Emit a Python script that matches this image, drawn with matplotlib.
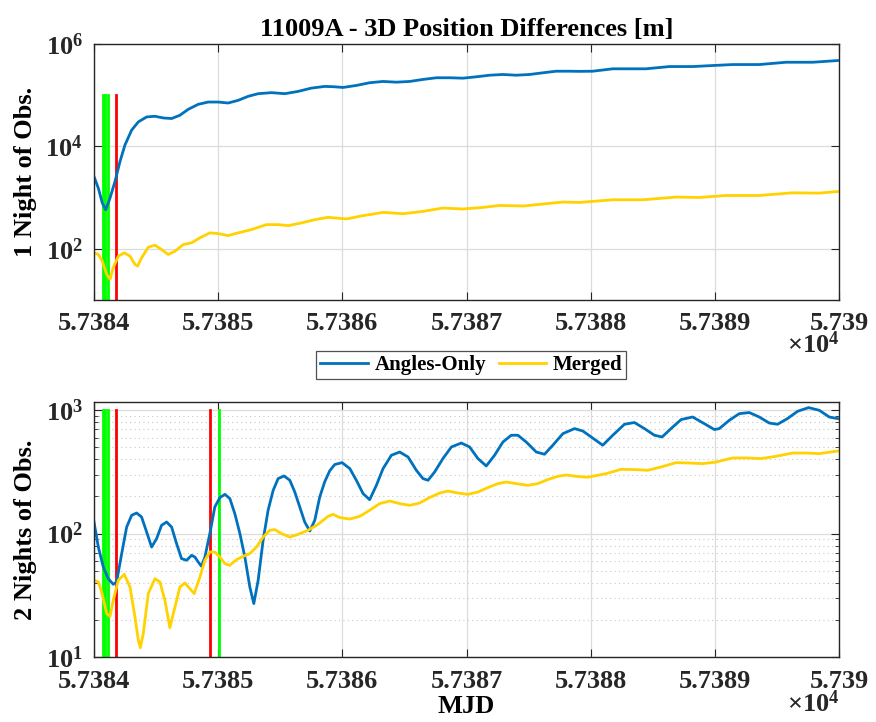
import matplotlib
matplotlib.use('Agg')
import matplotlib.pyplot as plt
import numpy as np
from matplotlib.ticker import FixedLocator, FuncFormatter, LogLocator, NullFormatter

plt.rcParams['font.family'] = ['Liberation Serif', 'DejaVu Serif']
plt.rcParams['font.weight'] = 'bold'
plt.rcParams['mathtext.fontset'] = 'custom'
plt.rcParams['mathtext.rm'] = 'Liberation Serif'
plt.rcParams['mathtext.bf'] = 'Liberation Serif:bold'
plt.rcParams['mathtext.default'] = 'bf'

# ---- data (MJD, log10 of position difference [m]) ----
top_ao_mjd = [57384.0, 57384.035, 57384.067, 57384.094, 57384.129, 57384.169, 57384.209, 57384.249,
              57384.303, 57384.357, 57384.424, 57384.491, 57384.558, 57384.625, 57384.692, 57384.759,
              57384.839, 57384.920, 57385.0, 57385.080, 57385.161, 57385.241, 57385.322, 57385.430,
              57385.537, 57385.644, 57385.751, 57385.858, 57385.930, 57386.006, 57386.113, 57386.220,
              57386.328, 57386.435, 57386.542, 57386.649, 57386.757, 57386.864, 57386.971, 57387.079,
              57387.186, 57387.293, 57387.400, 57387.508, 57387.615, 57387.722, 57387.829, 57387.910,
              57388.017, 57388.178, 57388.339, 57388.446, 57388.634, 57388.821, 57388.982, 57389.143,
              57389.358, 57389.573, 57389.787, 57389.988]
top_ao_log = [3.41, 3.184, 2.893, 2.76, 2.99, 3.313, 3.701, 4.025,
              4.317, 4.478, 4.575, 4.588, 4.555, 4.544, 4.608, 4.724,
              4.821, 4.866, 4.866, 4.847, 4.899, 4.977, 5.029, 5.049,
              5.029, 5.074, 5.138, 5.171, 5.165, 5.151, 5.190, 5.243,
              5.268, 5.254, 5.268, 5.307, 5.340, 5.340, 5.332, 5.359,
              5.390, 5.404, 5.390, 5.404, 5.437, 5.468, 5.468, 5.465,
              5.468, 5.515, 5.515, 5.515, 5.559, 5.559, 5.579, 5.598,
              5.598, 5.643, 5.643, 5.676]

top_mg_mjd = [57384.0, 57384.035, 57384.067, 57384.102, 57384.129, 57384.155, 57384.196, 57384.244,
              57384.290, 57384.330, 57384.351, 57384.384, 57384.437, 57384.491, 57384.544, 57384.598,
              57384.652, 57384.719, 57384.786, 57384.853, 57384.933, 57385.0, 57385.080, 57385.161,
              57385.268, 57385.389, 57385.483, 57385.564, 57385.671, 57385.778, 57385.885, 57386.033,
              57386.167, 57386.328, 57386.489, 57386.649, 57386.810, 57386.971, 57387.132, 57387.266,
              57387.454, 57387.615, 57387.776, 57387.910, 57388.178, 57388.419, 57388.688, 57388.875,
              57389.089, 57389.358, 57389.626, 57389.841, 57389.988]
top_mg_log = [1.922, 1.889, 1.759, 1.501, 1.404, 1.631, 1.856, 1.922,
              1.856, 1.695, 1.662, 1.825, 2.031, 2.070, 1.986, 1.889,
              1.953, 2.083, 2.117, 2.214, 2.311, 2.297, 2.258, 2.311,
              2.375, 2.472, 2.472, 2.452, 2.505, 2.569, 2.614, 2.583,
              2.647, 2.711, 2.685, 2.730, 2.796, 2.777, 2.808, 2.847,
              2.835, 2.874, 2.913, 2.905, 2.957, 2.957, 3.010, 3.002,
              3.041, 3.041, 3.093, 3.087, 3.118]

bot_ao_mjd = [57384.0, 57384.035, 57384.075, 57384.115, 57384.155, 57384.182, 57384.223, 57384.263,
              57384.303, 57384.343, 57384.383, 57384.424, 57384.464, 57384.504, 57384.544, 57384.585,
              57384.625, 57384.665, 57384.705, 57384.746, 57384.786, 57384.813, 57384.839, 57384.866,
              57384.893, 57384.933, 57384.973, 57385.014, 57385.054, 57385.094, 57385.134, 57385.175,
              57385.215, 57385.255, 57385.287, 57385.322, 57385.362, 57385.402, 57385.443, 57385.483,
              57385.531, 57385.577, 57385.617, 57385.657, 57385.697, 57385.738, 57385.778, 57385.818,
              57385.858, 57385.899, 57385.939, 57385.998, 57386.060, 57386.113, 57386.167, 57386.220,
              57386.274, 57386.328, 57386.395, 57386.462, 57386.529, 57386.596, 57386.649, 57386.690,
              57386.743, 57386.810, 57386.878, 57386.958, 57387.025, 57387.092, 57387.159, 57387.226,
              57387.293, 57387.360, 57387.414, 57387.481, 57387.562, 57387.628, 57387.695, 57387.776,
              57387.870, 57387.937, 57388.004, 57388.097, 57388.178, 57388.272, 57388.352, 57388.433,
              57388.513, 57388.575, 57388.647, 57388.728, 57388.821, 57388.915, 57388.996, 57389.036,
              57389.116, 57389.197, 57389.277, 57389.357, 57389.438, 57389.505, 57389.585, 57389.666,
              57389.755, 57389.841, 57389.921, 57389.988]
bot_ao_log = [2.094, 1.891, 1.729, 1.635, 1.589, 1.608, 1.838, 2.053,
              2.148, 2.167, 2.135, 2.013, 1.891, 1.959, 2.067, 2.094,
              2.053, 1.919, 1.797, 1.784, 1.824, 1.810, 1.770, 1.735,
              1.810, 2.0, 2.216, 2.292, 2.318, 2.284, 2.162, 2.0,
              1.810, 1.567, 1.433, 1.622, 1.946, 2.189, 2.351, 2.446,
              2.467, 2.432, 2.337, 2.216, 2.094, 2.021, 2.108, 2.297,
              2.42, 2.51, 2.56, 2.575, 2.527, 2.432, 2.324, 2.275,
              2.391, 2.527, 2.635, 2.661, 2.621, 2.513, 2.446, 2.432,
              2.499, 2.608, 2.702, 2.734, 2.702, 2.608, 2.548, 2.635,
              2.742, 2.797, 2.797, 2.742, 2.661, 2.643, 2.716, 2.810,
              2.851, 2.831, 2.783, 2.716, 2.797, 2.886, 2.900, 2.851,
              2.797, 2.783, 2.851, 2.924, 2.945, 2.891, 2.843, 2.851,
              2.918, 2.972, 2.981, 2.945, 2.896, 2.886, 2.932, 2.991,
              3.021, 2.999, 2.945, 2.932]

bot_mg_mjd = [57384.0, 57384.035, 57384.062, 57384.102, 57384.129, 57384.155, 57384.196, 57384.244,
              57384.290, 57384.330, 57384.357, 57384.373, 57384.397, 57384.437, 57384.491, 57384.531,
              57384.571, 57384.611, 57384.652, 57384.692, 57384.732, 57384.772, 57384.807, 57384.853,
              57384.893, 57384.933, 57384.973, 57385.014, 57385.054, 57385.094, 57385.148, 57385.201,
              57385.255, 57385.309, 57385.362, 57385.416, 57385.456, 57385.510, 57385.577, 57385.644,
              57385.724, 57385.804, 57385.885, 57385.925, 57385.979, 57386.060, 57386.140, 57386.220,
              57386.301, 57386.381, 57386.462, 57386.542, 57386.623, 57386.703, 57386.784, 57386.850,
              57386.931, 57387.011, 57387.092, 57387.172, 57387.253, 57387.320, 57387.400, 57387.494,
              57387.574, 57387.655, 57387.735, 57387.803, 57387.883, 57387.977, 57388.125, 57388.245,
              57388.352, 57388.459, 57388.567, 57388.688, 57388.795, 57388.902, 57389.010, 57389.143,
              57389.251, 57389.372, 57389.492, 57389.626, 57389.734, 57389.841, 57389.988]
bot_mg_log = [1.622, 1.608, 1.527, 1.352, 1.330, 1.459, 1.622, 1.670,
              1.567, 1.324, 1.135, 1.076, 1.190, 1.514, 1.635, 1.608,
              1.459, 1.238, 1.405, 1.567, 1.600, 1.554, 1.514, 1.648,
              1.784, 1.851, 1.851, 1.810, 1.757, 1.743, 1.789, 1.816,
              1.838, 1.891, 1.972, 2.027, 2.032, 2.0, 1.972, 1.994,
              2.027, 2.075, 2.140, 2.156, 2.130, 2.118, 2.140, 2.189,
              2.243, 2.264, 2.243, 2.229, 2.248, 2.292, 2.329, 2.345,
              2.329, 2.318, 2.337, 2.373, 2.405, 2.418, 2.405, 2.391,
              2.405, 2.438, 2.464, 2.475, 2.464, 2.457, 2.486, 2.521,
              2.519, 2.513, 2.540, 2.575, 2.572, 2.567, 2.580, 2.613,
              2.613, 2.608, 2.626, 2.653, 2.653, 2.648, 2.669]

# event markers
green_top = [57384.070, 57384.090, 57384.115]
red_top = [57384.177]
green_bot = [57384.070, 57384.090, 57384.115, 57385.006]
red_bot = [57384.177, 57384.936]

x_ticks = [57384, 57385, 57386, 57387, 57388, 57389, 57390]

c_ao = '#0072BD'
c_mg = '#FFD200'
edge = '#262626'


def style_axes(ax, off_y):
    ax.set_xlim(57384, 57390)
    ax.xaxis.set_major_locator(FixedLocator(x_ticks))
    ax.xaxis.set_major_formatter(FuncFormatter(lambda v, p: '%g' % round(v / 1e4, 4)))
    ax.tick_params(which='both', direction='in', top=True, right=True, colors=edge,
                   labelsize=19, labelcolor='#262626')
    ax.tick_params(which='major', length=6, width=0.8)
    ax.tick_params(which='minor', length=3, width=0.6)
    ax.tick_params(axis='x', which='major', pad=9)
    ax.tick_params(axis='y', which='major', pad=8)
    for s in ax.spines.values():
        s.set_color(edge)
        s.set_linewidth(1.0)
    ax.grid(True, which='major', color='#dcdcdc', linewidth=0.9)
    ax.set_axisbelow(True)
    for lab in ax.get_xticklabels() + ax.get_yticklabels():
        lab.set_fontweight('bold')
    # exponent shown under the last tick label, as in the source figure
    ax.text(1.0, off_y, r'$\times\mathrm{10^{4}}$', transform=ax.transAxes, ha='right',
            va='baseline', fontsize=19, color='#262626')


fig = plt.figure(figsize=(8.76, 7.22), dpi=100)

ax1 = fig.add_axes([0.1073, 0.5845, 0.8505, 0.3546])
ax1.set_yscale('log')
for xv in green_top:
    ax1.plot([xv, xv], [10, 1e5], color='#00FF00', linewidth=2.0)
for xv in red_top:
    ax1.plot([xv, xv], [10, 1e5], color='#FF0000', linewidth=2.0)
l1, = ax1.plot(top_ao_mjd, 10 ** np.array(top_ao_log), color=c_ao, linewidth=2.0,
               solid_joinstyle='round', label='Angles-Only')
l2, = ax1.plot(top_mg_mjd, 10 ** np.array(top_mg_log), color=c_mg, linewidth=2.0,
               solid_joinstyle='round', label='Merged')
ax1.set_ylim(10, 1e6)
ax1.yaxis.set_major_locator(FixedLocator([1e2, 1e4, 1e6]))
ax1.yaxis.set_minor_locator(FixedLocator([]))
style_axes(ax1, -0.205)
ax1.set_ylabel('1 Night of Obs.', fontsize=19, fontweight='bold', labelpad=6)
ax1.set_title('11009A - 3D Position Differences [m]', fontsize=19, fontweight='bold', pad=6)

ax2 = fig.add_axes([0.1073, 0.0900, 0.8505, 0.3532])
ax2.set_yscale('log')
for xv in green_bot:
    ax2.plot([xv, xv], [10, 1e3], color='#00FF00', linewidth=2.0)
for xv in red_bot:
    ax2.plot([xv, xv], [10, 1e3], color='#FF0000', linewidth=2.0)
ax2.plot(bot_ao_mjd, 10 ** np.array(bot_ao_log), color=c_ao, linewidth=2.0, solid_joinstyle='round')
ax2.plot(bot_mg_mjd, 10 ** np.array(bot_mg_log), color=c_mg, linewidth=2.0, solid_joinstyle='round')
ax2.set_ylim(10, 1165)
ax2.yaxis.set_major_locator(FixedLocator([1e1, 1e2, 1e3]))
ax2.yaxis.set_minor_locator(LogLocator(base=10, subs=np.arange(2, 10)))
ax2.yaxis.set_minor_formatter(NullFormatter())
style_axes(ax2, -0.215)
ax2.grid(True, which='minor', axis='y', color='#c8c8c8', linestyle=(0, (1, 3)), linewidth=0.8)
ax2.set_ylabel('2 Nights of Obs.', fontsize=19, fontweight='bold', labelpad=6)
ax2.set_xlabel('MJD', fontsize=19, fontweight='bold', labelpad=2)

leg = fig.legend(handles=[l1, l2], loc='center', bbox_to_anchor=(0.538, 0.4945), ncol=2,
                 fontsize=15, frameon=True, fancybox=False, handlelength=2.3,
                 handletextpad=0.3, columnspacing=0.6, borderpad=0.2, borderaxespad=0)
leg.get_frame().set_edgecolor(edge)
leg.get_frame().set_linewidth(0.9)
for t in leg.get_texts():
    t.set_fontweight('bold')

fig.savefig('out.png', dpi=100)
